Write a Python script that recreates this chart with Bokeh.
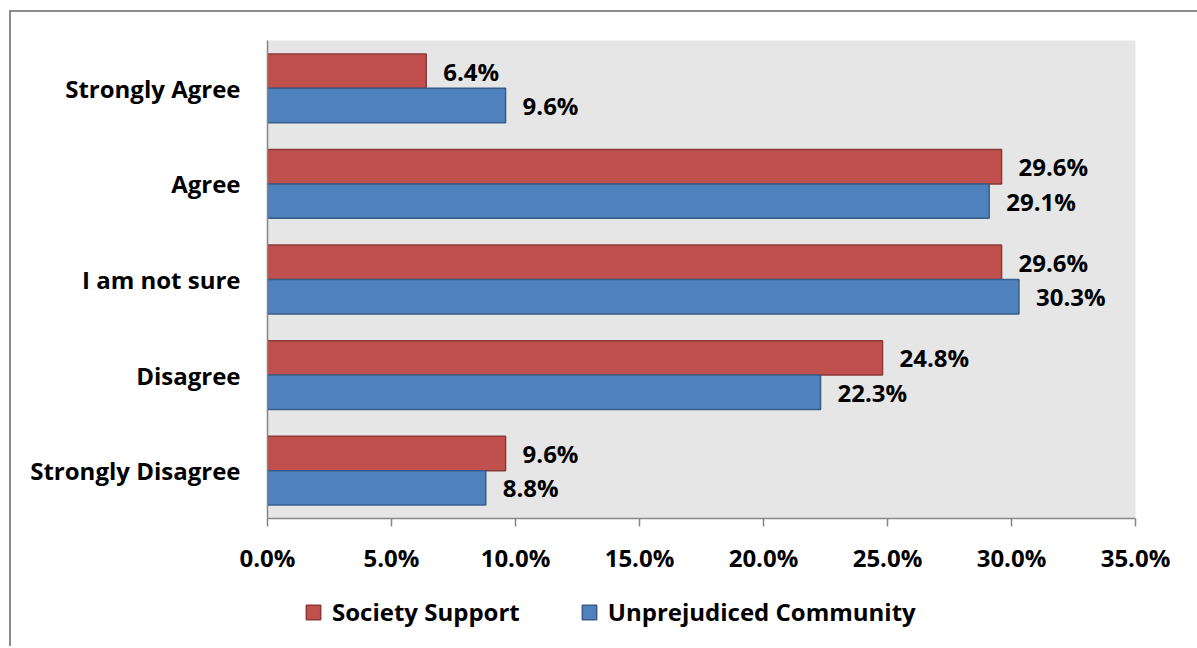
from bokeh.plotting import figure
from bokeh.layouts import column
from bokeh.models import (ColumnDataSource, FactorRange, Range1d, FixedTicker,
                          NumeralTickFormatter, Legend, LegendItem)
from bokeh.transform import dodge
from bokeh.core.properties import value
from bokeh.embed import file_html
from bokeh.resources import INLINE

categories = ["Strongly Agree", "Agree", "I am not sure", "Disagree", "Strongly Disagree"]
society_support = [0.064, 0.296, 0.296, 0.248, 0.096]
unprejudiced_community = [0.096, 0.291, 0.303, 0.223, 0.088]
series_names = ["Society Support", "Unprejudiced Community"]
x_ticks = [0.0, 0.05, 0.10, 0.15, 0.20, 0.25, 0.30, 0.35]

FONT_NAME = "Open Sans"
FONT = value(FONT_NAME)
FS = "24px"
RED, RED_EDGE = "#C0504D", "#8C3A38"
BLUE, BLUE_EDGE = "#4F81BD", "#385D8A"

src = ColumnDataSource(dict(
    cat=categories,
    ss=society_support,
    uc=unprejudiced_community,
    ss_lab=[f"{v*100:.1f}%" for v in society_support],
    uc_lab=[f"{v*100:.1f}%" for v in unprejudiced_community],
))

p = figure(width=1186, height=576, output_backend="svg", toolbar_location=None,
           y_range=FactorRange(factors=list(reversed(categories))),
           x_range=Range1d(0, 0.35),
           min_border_left=256, min_border_right=62, min_border_top=28, min_border_bottom=70)
p.background_fill_color = "#e6e6e6"
p.border_fill_color = "white"
p.outline_line_color = None
p.xgrid.visible = False
p.ygrid.visible = False

r_ss = p.hbar(y=dodge("cat", 0.18, range=p.y_range), right="ss", left=0, height=0.36,
              source=src, fill_color=RED, line_color=RED_EDGE, line_width=1.5)
r_uc = p.hbar(y=dodge("cat", -0.18, range=p.y_range), right="uc", left=0, height=0.36,
              source=src, fill_color=BLUE, line_color=BLUE_EDGE, line_width=1.5)

for col, lab, off in (("ss", "ss_lab", 0.18), ("uc", "uc_lab", -0.18)):
    p.text(x=col, y=dodge("cat", off, range=p.y_range), text=lab, source=src,
           x_offset=17, text_baseline="middle", text_align="left",
           text_font=FONT, text_font_style="bold", text_font_size=FS, text_color="black")

xa = p.xaxis[0]
xa.ticker = FixedTicker(ticks=x_ticks)
xa.formatter = NumeralTickFormatter(format="0.0%")
xa.minor_tick_line_color = None
xa.major_tick_in = 0
xa.major_tick_out = 8
xa.major_label_standoff = 14
xa.axis_line_color = "#868686"
xa.major_tick_line_color = "#868686"
xa.axis_line_width = 1.5
xa.major_tick_line_width = 1.5
xa.major_label_text_font = FONT_NAME
xa.major_label_text_font_style = "bold"
xa.major_label_text_font_size = FS
xa.major_label_text_color = "black"

ya = p.yaxis[0]
ya.major_tick_line_color = None
ya.minor_tick_line_color = None
ya.axis_line_color = "#868686"
ya.axis_line_width = 1.5
ya.major_label_standoff = 21
ya.major_label_text_font = FONT_NAME
ya.major_label_text_font_style = "bold"
ya.major_label_text_font_size = FS
ya.major_label_text_color = "black"

# legend strip below the chart (its frame aligns with the chart's frame)
lg = figure(width=1186, height=58, output_backend="svg", toolbar_location=None,
            x_range=Range1d(0, 1), y_range=Range1d(0, 1),
            min_border_left=0, min_border_right=0, min_border_top=0, min_border_bottom=0)
lg.axis.visible = False
lg.grid.visible = False
lg.outline_line_color = None
lg.background_fill_color = "white"
lg.border_fill_color = "white"
offscreen = ColumnDataSource(dict(y=[-5], right=[0]))
l_ss = lg.hbar(y="y", right="right", height=0.5, source=offscreen,
               fill_color=RED, line_color=RED_EDGE, line_width=1.5)
l_uc = lg.hbar(y="y", right="right", height=0.5, source=offscreen,
               fill_color=BLUE, line_color=BLUE_EDGE, line_width=1.5)
legend = Legend(items=[LegendItem(label=series_names[0], renderers=[l_ss]),
                       LegendItem(label=series_names[1], renderers=[l_uc])],
                location=(37, 18), orientation="horizontal",
                padding=0, margin=0, spacing=60, label_standoff=10,
                glyph_width=18, glyph_height=18,
                label_text_font=FONT_NAME, label_text_font_style="bold",
                label_text_font_size=FS, label_text_color="black",
                border_line_color=None, background_fill_alpha=0)
lg.add_layout(legend, "center")

layout = column(p, lg, spacing=0,
                styles={"margin-left": "9px", "margin-top": "10px",
                        "border-left": "2px solid #8c8c8c", "border-top": "2px solid #8c8c8c"})

open("out.html", "w").write(file_html(layout, INLINE))
